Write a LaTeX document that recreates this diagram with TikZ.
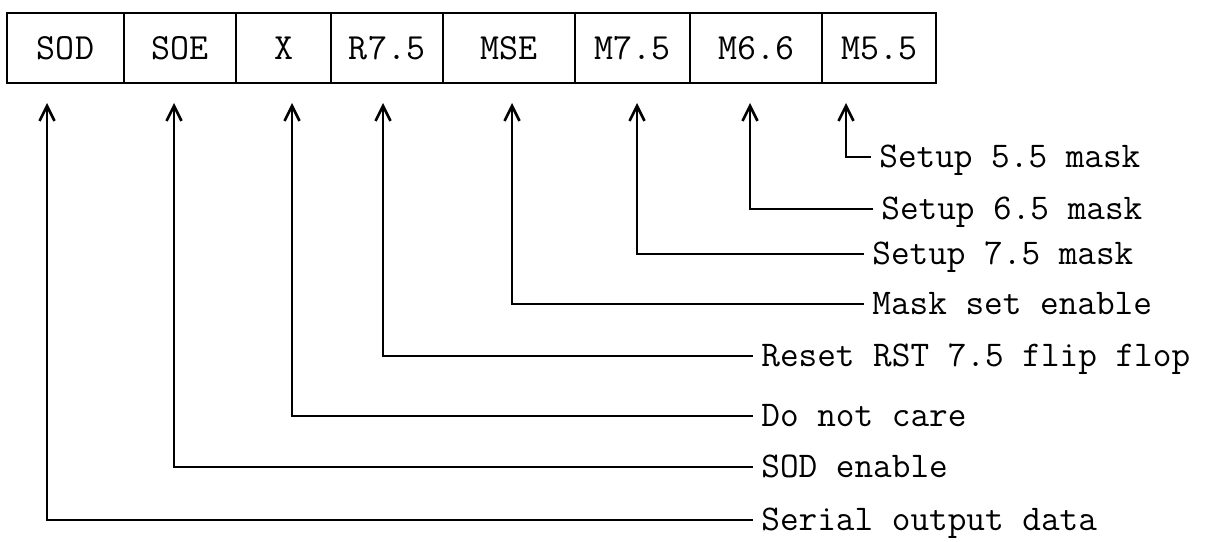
\documentclass[tikz,border=0pt]{standalone}
\usetikzlibrary{arrows.meta,positioning}

\tikzset{
	cell/.style={draw, line width=1.6pt, minimum height=14mm, inner sep=0pt, outer sep=0pt,
		font=\ttfamily\fontsize{21}{23}\selectfont},
	bitlabel/.style={anchor=west, inner xsep=1.6mm, inner ysep=0pt, text height=4.3mm, text depth=0pt,
		font=\ttfamily\fontsize{20.6}{22}\selectfont},
	sig/.style={line width=0.9pt, -{Straight Barb[length=3mm, width=3mm, line width=1.5pt]}}
}

\begin{document}
\begin{tikzpicture}[x=0.2mm, y=-0.2mm]
	\useasboundingbox (0,0) rectangle (1218,542);
	% the SIM bit pattern
	\node[cell, minimum width=23.4mm] (sod) at (65.5,48) {SOD};
	\node[cell, minimum width=22.4mm, right=0pt of sod] (soe) {SOE};
	\node[cell, minimum width=19mm, right=0pt of soe] (x) {X};
	\node[cell, minimum width=22.4mm, right=0pt of x] (r75) {R7.5};
	\node[cell, minimum width=26.4mm, right=0pt of r75] (mse) {MSE};
	\node[cell, minimum width=23mm, right=0pt of mse] (m75) {M7.5};
	\node[cell, minimum width=26.4mm, right=0pt of m75] (m65) {M6.6};
	\node[cell, minimum width=22.8mm, right=0pt of m65] (m55) {M5.5};
	% arrow tips under the bits
	\coordinate (tsod) at (47,103);
	\coordinate (tsoe) at (174,103);
	\coordinate (tx) at (292,103);
	\coordinate (tr75) at (383,103);
	\coordinate (tmse) at (512,103);
	\coordinate (tm75) at (637,103);
	\coordinate (tm65) at (750,103);
	\coordinate (tm55) at (846,103);
	% meaning of each bit
	\node[bitlabel] (lm55) at (871,157) {Setup 5.5 mask};
	\node[bitlabel] (lm65) at (873,209) {Setup 6.5 mask};
	\node[bitlabel] (lm75) at (864,254) {Setup 7.5 mask};
	\node[bitlabel] (lmse) at (864,304) {Mask set enable};
	\node[bitlabel] (lr75) at (753,356) {Reset RST 7.5 flip flop};
	\node[bitlabel] (lx) at (753,416) {Do not care};
	\node[bitlabel] (lsoe) at (753,467) {SOD enable};
	\node[bitlabel] (lsod) at (753,520) {Serial output data};
	\foreach \l/\t in {lm55/tm55, lm65/tm65, lm75/tm75, lmse/tmse, lr75/tr75, lx/tx, lsoe/tsoe, lsod/tsod}
		\draw[sig] (\l.west) -| (\t);
\end{tikzpicture}
\end{document}
